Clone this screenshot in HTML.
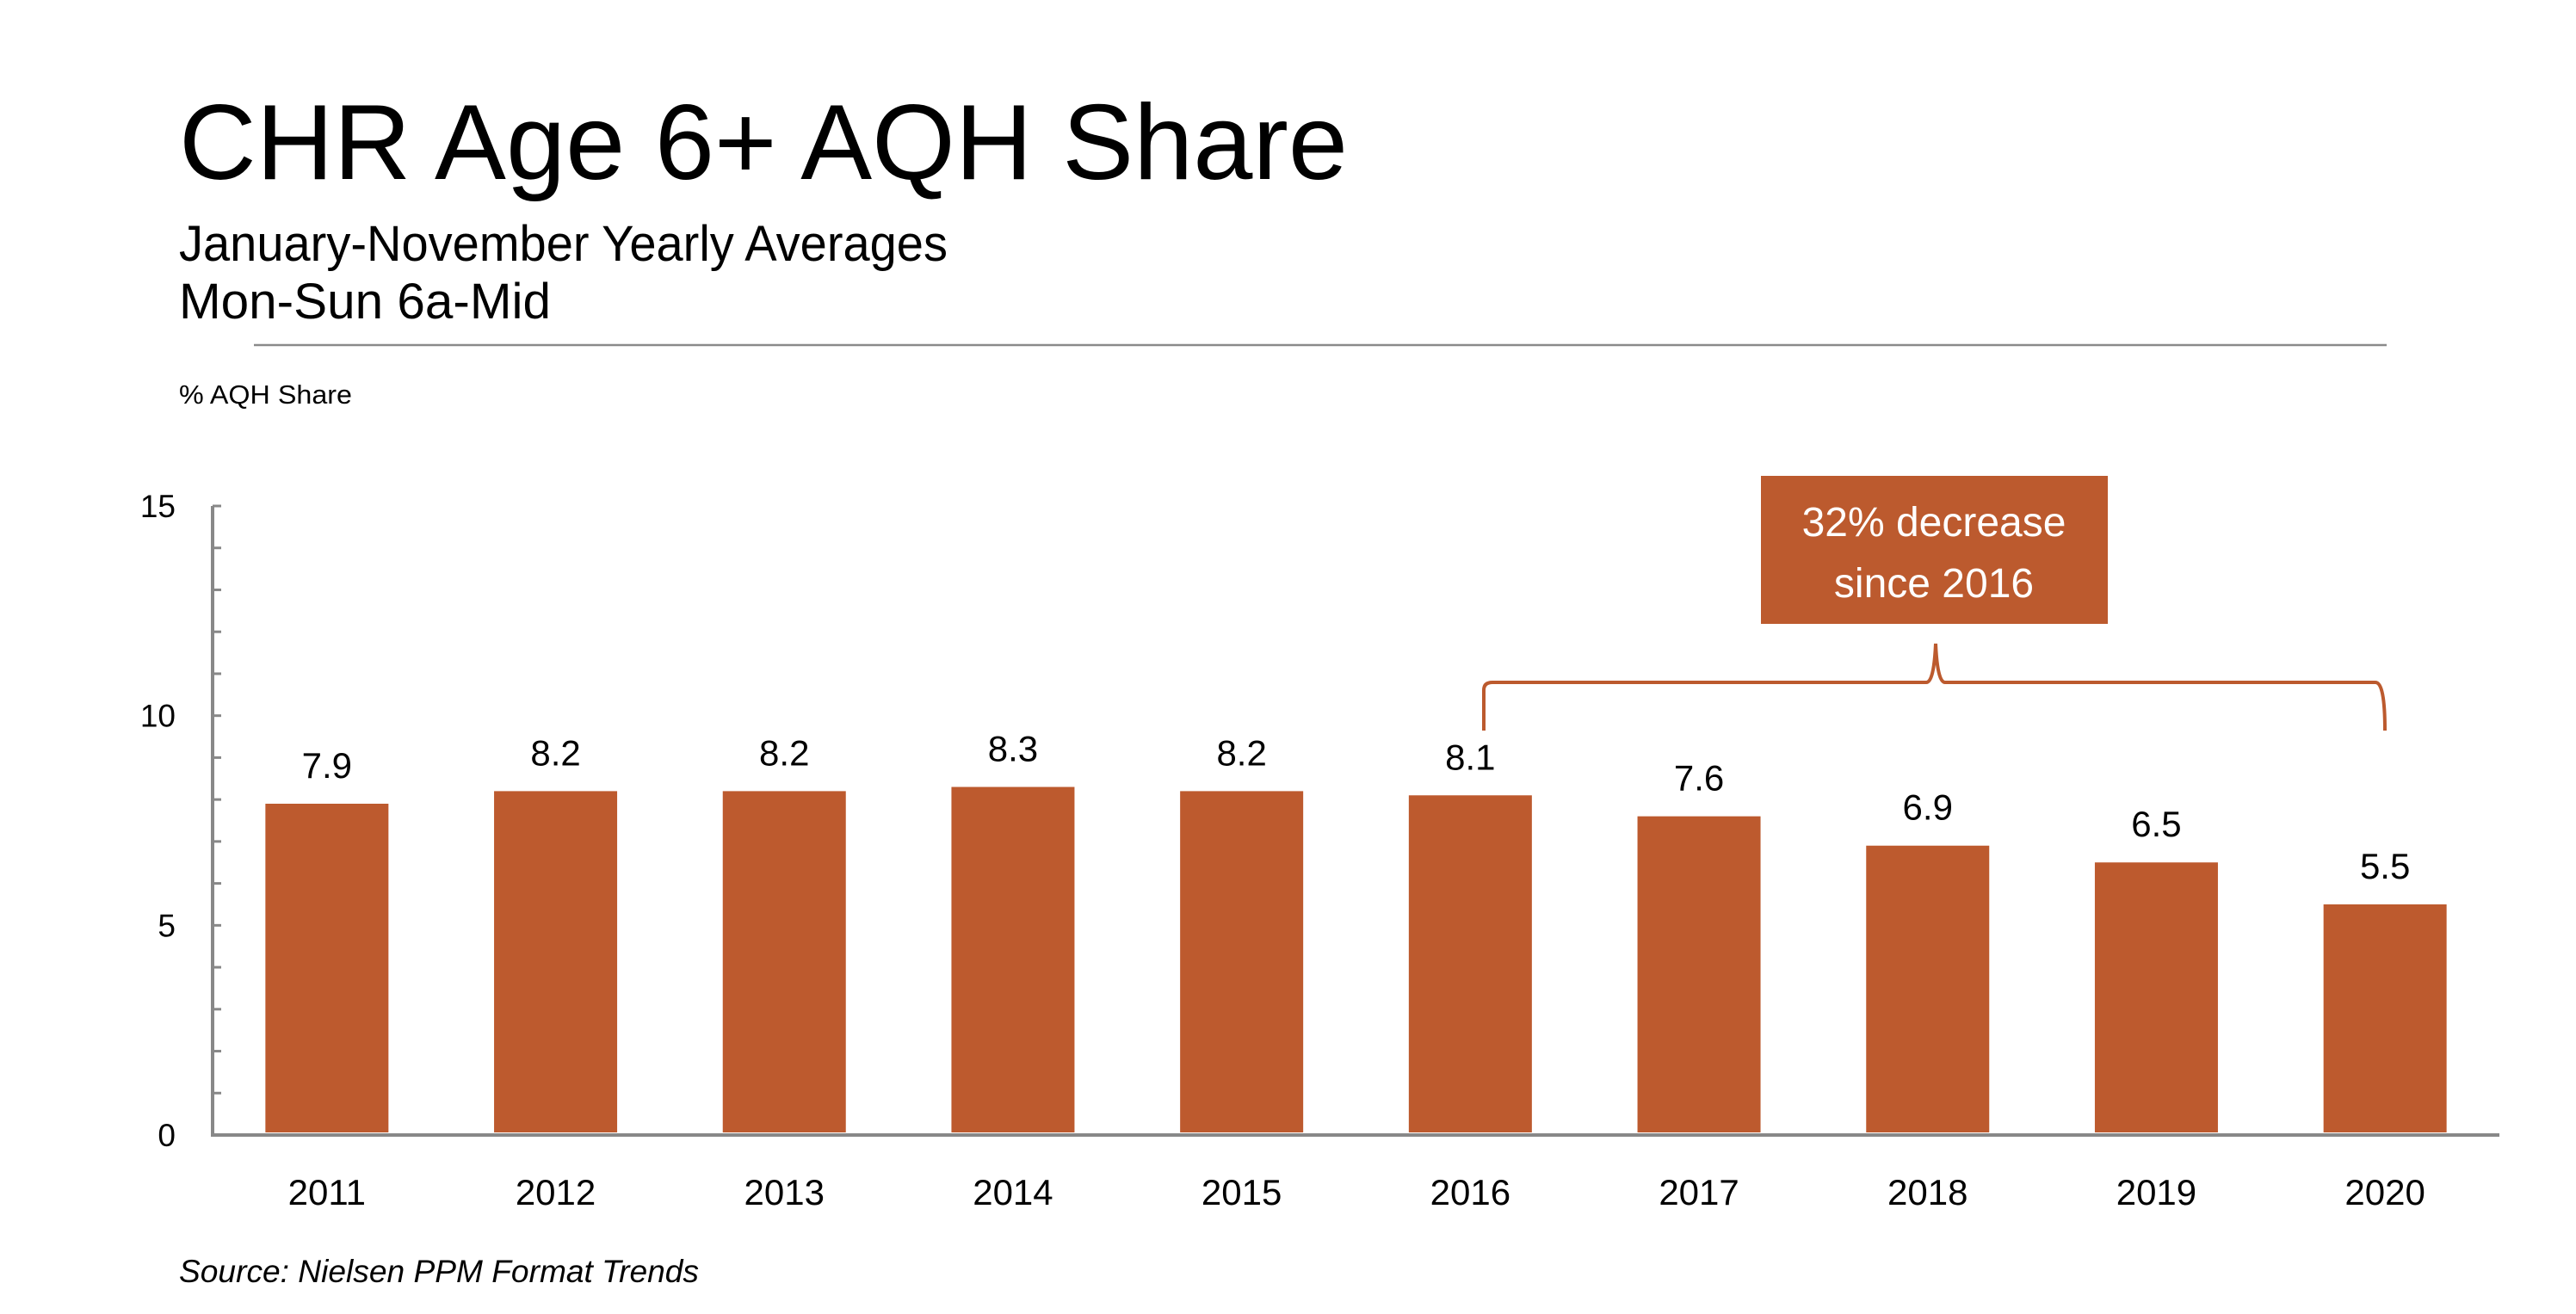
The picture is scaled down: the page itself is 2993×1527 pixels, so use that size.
<!DOCTYPE html>
<html><head><meta charset="utf-8"><style>
html,body{margin:0;padding:0;background:#fff;}
svg{display:block;font-family:"Liberation Sans",sans-serif;}
</style></head><body>
<svg id="chart" width="2993" height="1527" viewBox="0 0 2993 1527" xmlns="http://www.w3.org/2000/svg">
<text x="208" y="208" font-size="124" textLength="1358" lengthAdjust="spacingAndGlyphs" fill="#000">CHR Age 6+ AQH Share</text>
<text x="208" y="303" font-size="58" textLength="893" lengthAdjust="spacingAndGlyphs" fill="#000">January-November Yearly Averages</text>
<text x="208" y="370" font-size="58" textLength="432" lengthAdjust="spacingAndGlyphs" fill="#000">Mon-Sun 6a-Mid</text>
<line x1="295" y1="401" x2="2773" y2="401" stroke="#8a8a8a" stroke-width="2.5"/>
<text x="208" y="469" font-size="31" textLength="201" lengthAdjust="spacingAndGlyphs" fill="#000">% AQH Share</text>
<g id="axes"></g>
<g id="bars"></g>
<rect x="2046" y="553" width="403" height="172" fill="#BC5A2E"/>
<text x="2247" y="623" font-size="48" fill="#fff" text-anchor="middle">32% decrease</text>
<text x="2247" y="694" font-size="48" fill="#fff" text-anchor="middle">since 2016</text>
<path d="M1724 849 L1724 802 Q1724 793 1734 793 L2238 793 Q2247 793 2249 748 Q2251 793 2260 793 L2760 793 Q2771 793 2771 849" fill="none" stroke="#BC5A2E" stroke-width="4"/>
<text x="208" y="1490" font-size="37" font-style="italic" textLength="604" lengthAdjust="spacingAndGlyphs" fill="#000">Source: Nielsen PPM Format Trends</text>
</svg>
<script>
const categories = ["2011","2012","2013","2014","2015","2016","2017","2018","2019","2020"];
const values = [7.9,8.2,8.2,8.3,8.2,8.1,7.6,6.9,6.5,5.5];
const valueLabels = ["7.9","8.2","8.2","8.3","8.2","8.1","7.6","6.9","6.5","5.5"];
const yTicks = [0,5,10,15];
const NS="http://www.w3.org/2000/svg";
const X0=247, X1=2904, Y0=1319, Y15=588, YMAX=15;
const band=(X1-X0)/categories.length;
function xC(i){return X0+band*(i+0.5);}
function yS(v){return Y0-(v/YMAX)*(Y0-Y15);}
function mk(tag,attrs,parent){const e=document.createElementNS(NS,tag);for(const k in attrs)e.setAttribute(k,attrs[k]);parent.appendChild(e);return e;}
const axes=document.getElementById('axes'), bars=document.getElementById('bars');
let yl=mk('line',{x1:X0,y1:Y15,x2:X0,y2:Y0,stroke:'#888',"stroke-width":4},axes);


for(let v=0;v<=YMAX;v++){
  let t=mk('line',{x1:X0,y1:yS(v),x2:X0+10,y2:yS(v),stroke:'#888',"stroke-width":3},axes);
  
  
}
yTicks.forEach(v=>{
  let t=mk('text',{x:204,y:yS(v)+13,"font-size":37,"text-anchor":"end",fill:'#000'},axes);
  t.textContent=v;
  
  
});
categories.forEach((c,i)=>{
  const w=143, y=yS(values[i]);
  let r=mk('rect',{x:xC(i)-w/2,y:y,width:w,height:Y0-y-3,fill:'#BD5A2E'},bars);
  
  
  let l=mk('text',{x:xC(i),y:y-30,"font-size":42,"text-anchor":"middle",fill:'#000'},bars);
  l.textContent=valueLabels[i];
  
  
  let xl=mk('text',{x:xC(i),y:1400,"font-size":42,"text-anchor":"middle",fill:'#000'},axes);
  xl.textContent=c;
  
  
});
let xa=mk('line',{x1:X0-2,y1:Y0,x2:X1,y2:Y0,stroke:'#888',"stroke-width":4},axes);


</script>
</body></html>
